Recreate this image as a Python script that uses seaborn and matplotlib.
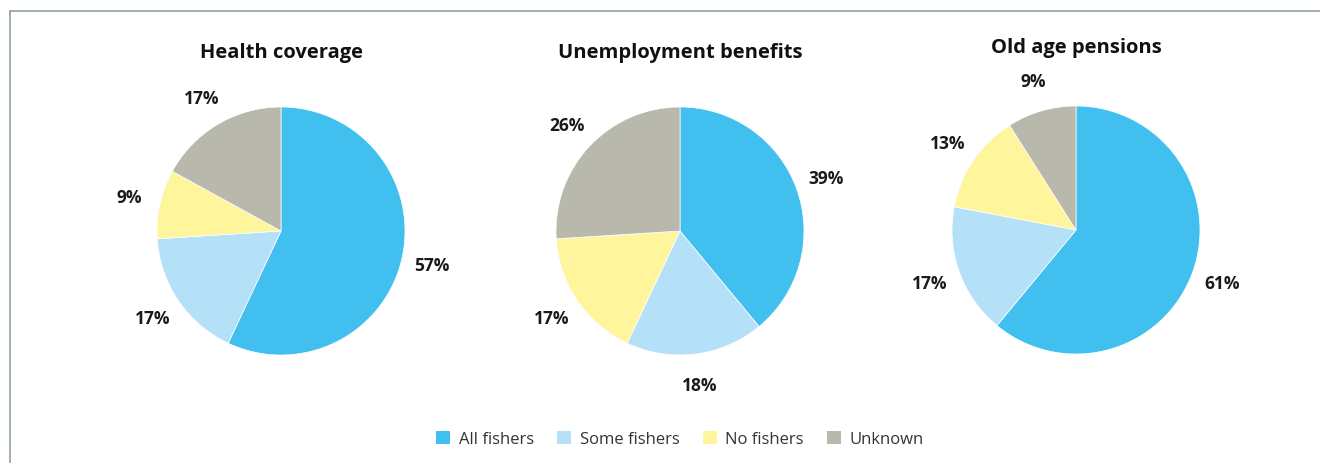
import matplotlib.pyplot as plt
import seaborn as sns
from matplotlib.lines import Line2D
from matplotlib.patches import Patch

W, H = 1320, 464

CATEGORIES = ["All fishers", "Some fishers", "No fishers", "Unknown"]
COLORS = ["#41BFEF", "#B5E1F8", "#FFF59D", "#B8B8AC"]

TITLES = ["Health coverage", "Unemployment benefits", "Old age pensions"]
HEALTH = [57, 17, 9, 17]
UNEMPLOYMENT = [39, 18, 17, 26]
PENSIONS = [61, 17, 13, 9]

# pixel layout: pie centre x, centre y (from top), radius, title baseline (from top)
LAYOUT = [
    (281, 232, 124, 58),
    (680, 232, 124, 58),
    (1076, 231, 124, 53),
]


def main() -> None:
    sns.set_theme(style="white")
    plt.rcParams["font.family"] = ["Open Sans", "DejaVu Sans"]

    fig = plt.figure(figsize=(W / 100, H / 100), dpi=100)

    for title, values, (cx, cy, r, tb) in zip(TITLES, [HEALTH, UNEMPLOYMENT, PENSIONS], LAYOUT):
        ax = fig.add_axes([(cx - r) / W, (H - cy - r) / H, 2 * r / W, 2 * r / H])
        ax.pie(
            values,
            colors=COLORS,
            startangle=90,
            counterclock=False,
            autopct=lambda p: f"{p:.0f}%",
            pctdistance=1.25,
            wedgeprops={"linewidth": 0.5, "edgecolor": "white"},
            textprops={"fontsize": 12.5, "fontweight": "bold", "color": "#1a1a1a"},
        )
        ax.set_xlim(-1, 1)
        ax.set_ylim(-1, 1)
        fig.text(cx / W, (H - tb) / H, title, ha="center", va="baseline",
                 fontsize=14.5, fontweight="bold", color="#111111")

    # frame lines along top and left
    border = "#8D9EAA"
    fig.add_artist(Line2D([10 / W, 10 / W], [0, 1 - 12 / H], color=border, lw=1.2))
    fig.add_artist(Line2D([10 / W, 1], [1 - 12 / H, 1 - 12 / H], color=border, lw=1.2))

    handles = [Patch(facecolor=c, edgecolor="none", label=l) for c, l in zip(COLORS, CATEGORIES)]
    leg = fig.legend(
        handles=handles,
        loc="center",
        bbox_to_anchor=(680 / W, (H - 440) / H),
        ncol=4,
        frameon=False,
        fontsize=12,
        handlelength=0.85,
        handleheight=0.85,
        handletextpad=0.5,
        columnspacing=1.4,
    )
    for t in leg.get_texts():
        t.set_color("#333333")

    fig.savefig("out.png", dpi=100)


if __name__ == "__main__":
    main()
